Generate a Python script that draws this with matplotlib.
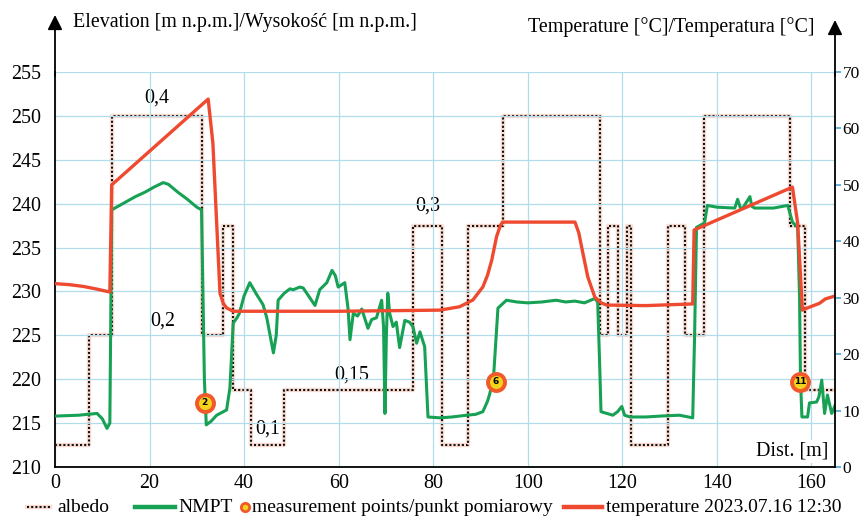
import matplotlib
matplotlib.use("Agg")
import matplotlib.pyplot as plt
from matplotlib.lines import Line2D

plt.rcParams['font.family'] = ['Liberation Serif', 'DejaVu Serif']

# ---------------- data ----------------
nmpt_x = [0, 5, 8.9, 10, 11, 11.6, 12, 13, 15, 17, 19, 21, 22.9, 24, 26, 28, 30, 31, 31.3, 31.6, 32,
          33, 34.2, 36.3, 37, 37.7, 38.5, 39, 40, 41.2, 42.6, 44, 44.8, 45.5, 46.2, 46.8, 47.2, 48.5,
          49.7, 50.4, 51.8, 52.5, 53.5, 55, 56, 57.5, 58.6, 59.3, 59.9, 61.3, 62, 62.4, 63.1, 64,
          64.9, 66.2, 67, 68, 69.1, 69.5, 69.8, 70.1, 70.4, 70.8, 71.5, 72.2, 72.9, 74, 75, 75.7,
          76.5, 77.2, 78.2, 78.9, 81.4, 84, 87.1, 89, 90.5, 91.5, 92, 92.8, 93.7, 95.5, 97.7, 100,
          103, 106, 108, 110, 112, 114.2, 114.8, 115.2, 115.5, 118, 119, 119.9, 120.5, 121.6, 125,
          128, 132.1, 134.9, 135.3, 135.7, 137.4, 138, 140, 143.8, 144.4, 145, 145.5, 147, 147.4,
          148, 152, 155, 156, 157.1, 157.5, 157.7, 158, 159.2, 159.6, 161.1, 161.6, 162.2, 162.8,
          163.4, 164.3, 165]
nmpt_elev = [215.8, 215.9, 216.1, 215.5, 214.4, 215.0, 239.3, 239.6, 240.2, 240.8, 241.3, 241.9,
             242.4, 242.2, 241.3, 240.5, 239.6, 239.3, 230.0, 220.0, 214.8, 215.2, 215.9, 216.5,
             219.0, 226.4, 227.0, 227.5, 229.5, 231.0, 229.7, 228.5, 227.0, 225.0, 223.0, 225.0,
             229.0, 229.8, 230.3, 230.2, 230.5, 230.4, 229.6, 228.4, 230.2, 231.0, 232.4, 231.8,
             230.5, 231.0, 228.0, 224.5, 227.5, 227.2, 228.0, 225.8, 226.8, 227.0, 229.0, 226.0,
             216.1, 225.0, 229.8, 227.5, 226.0, 226.5, 223.6, 226.7, 226.5, 226.0, 224.1, 225.4,
             223.7, 215.7, 215.6, 215.7, 215.9, 216.0, 216.3, 217.5, 218.4, 220.5, 228.1, 229.0,
             228.8, 228.7, 228.8, 229.0, 228.8, 228.9, 228.7, 229.2, 228.8, 222.0, 216.3, 215.9,
             216.3, 216.9, 215.9, 215.7, 215.7, 215.8, 215.9, 215.6, 225.0, 237.3, 237.8, 239.8,
             239.6, 239.5, 240.5, 239.5, 239.5, 240.8, 239.7, 239.5, 239.5, 239.8, 237.9, 237.3,
             229.4, 220.0, 215.7, 215.7, 217.3, 217.4, 218.0, 219.9, 216.1, 218.2, 216.1, 217.0]

temp_x = [0, 3.2, 6, 9, 11.6, 12, 32.4, 33.4, 34.9, 35.6, 36.3, 37.7, 60, 81.4, 85.6, 88.4, 90.5,
          91.5, 92.4, 93.4, 94.2, 94.7, 110, 110.8, 111.4, 112.7, 114.2, 115.5, 116.7, 125, 134.9,
          135.2, 156, 157.1, 158.1, 159.2, 161.7, 163, 165]
temp_c = [32.5, 32.3, 32.0, 31.5, 31.0, 50.0, 65.2, 57.4, 30.8, 29.0, 28.2, 27.6, 27.6, 27.8, 28.4,
          29.6, 31.9, 34.0, 36.7, 40.8, 42.8, 43.4, 43.4, 41.5, 39.0, 33.7, 30.1, 29.1, 28.7, 28.6,
          28.9, 42.0, 49.6, 43.2, 27.8, 28.2, 29.0, 29.8, 30.3]

albedo_x = [0, 7.2, 12, 31, 35.6, 37.7, 41.4, 48.5, 75.7, 81.8, 87.3, 94.7, 115.2, 116.9, 119.2,
            120.9, 121.8, 129.6, 133.2, 137.2, 155.4, 158.6, 165]
albedo_v = [0.1, 0.2, 0.4, 0.2, 0.3, 0.15, 0.1, 0.15, 0.3, 0.1, 0.3, 0.4, 0.2, 0.3, 0.2, 0.3, 0.1,
            0.3, 0.2, 0.4, 0.3, 0.15, 0.15]

albedo_labels = ["0,4", "0,2", "0,1", "0,15", "0,3"]
albedo_label_x = [21.6, 22.8, 45.0, 62.8, 78.9]
albedo_label_v = [0.416, 0.213, 0.115, 0.164, 0.318]

point_ids = ["2", "6", "11"]
point_x = [31.7, 93.2, 157.7]
point_elev = [217.3, 219.7, 219.7]

elev_ticks = [210, 215, 220, 225, 230, 235, 240, 245, 250, 255]
temp_ticks = [0, 10, 20, 30, 40, 50, 60, 70]
dist_ticks = [0, 20, 40, 60, 80, 100, 120, 140, 160]

legend_labels = ['albedo', 'NMPT', 'measurement points/punkt pomiarowy',
                 'temperature 2023.07.16 12:30']

# ---------------- styling ----------------
GREEN = '#17a154'
RED = '#ef4a30'
GRID = '#b3dceb'
FS = 14.4
LFS = 14.0
W, H = 861, 517

fig = plt.figure(figsize=(8.61, 5.17), dpi=100)
L, R = 55 / W, 835 / W
B, T = (H - 467) / H, (H - 72) / H
ax = fig.add_axes([L, B, R - L, T - B])
ax_alb = ax.twinx()
ax_t = ax.twinx()
ax_alb.set_zorder(1)
ax.set_zorder(2)
ax_t.set_zorder(3)
ax.patch.set_visible(False)
ax_alb.patch.set_visible(False)
ax_t.patch.set_visible(False)

ax.set_xlim(0, 165)
ax.set_ylim(210, 255)
ax_t.set_ylim(0, 70)
ax_alb.set_ylim(0.08, 0.44)

# grid
ax.set_xticks(dist_ticks)
ax.set_yticks(elev_ticks)
ax.grid(True, color=GRID, lw=0.9)
ax.set_axisbelow(True)

# albedo
ax_alb.plot(albedo_x, albedo_v, drawstyle='steps-post', color='#f7c2b0', lw=3.2, alpha=0.55)
ax_alb.plot(albedo_x, albedo_v, drawstyle='steps-post', color='#111111', lw=1.5,
            linestyle=(0, (1, 1)))
for s, xx, vv in zip(albedo_labels, albedo_label_x, albedo_label_v):
    ax_alb.text(xx, vv, s, fontsize=FS, ha='center', va='center',
                bbox=dict(facecolor='white', edgecolor='none', pad=1.5))
ax_alb.set_yticks([])
for sp in ax_alb.spines.values():
    sp.set_visible(False)

# NMPT
ax.plot(nmpt_x, nmpt_elev, color=GREEN, lw=2.2, zorder=3)
ax.scatter(point_x, point_elev, s=150, facecolor='#f3d31c', edgecolor='#f05a2a', lw=2.8, zorder=5)
for s, xx, yy in zip(point_ids, point_x, point_elev):
    ax.text(xx, yy, s, fontsize=6.5, fontweight='bold', ha='center', va='center', zorder=6,
            family='DejaVu Sans')

# temperature
ax_t.plot(temp_x, temp_c, color=RED, lw=2.4)

# spines & ticks
for sp in ['top', 'right']:
    ax.spines[sp].set_visible(False)
for sp in ['top', 'left', 'bottom']:
    ax_t.spines[sp].set_visible(False)
ax.spines['left'].set_linewidth(1.3)
ax.spines['bottom'].set_linewidth(1.3)
ax_t.spines['right'].set_linewidth(1.3)
ax.tick_params(axis='y', length=0, pad=10, labelsize=FS)
ax.tick_params(axis='x', length=0, pad=5, labelsize=FS)
ax_t.set_yticks(temp_ticks)
ax_t.tick_params(axis='y', length=4, width=1.2, color='#4aa7d6', pad=1.5, labelsize=12.5)

# arrows
ax.annotate('', xy=(0, 1 + 57 / 395), xytext=(0, 0.99), xycoords='axes fraction',
            annotation_clip=False,
            arrowprops=dict(arrowstyle='-|>', color='black', lw=1.3, mutation_scale=22,
                            shrinkA=0, shrinkB=0))
ax.annotate('', xy=(1, 1 + 52 / 395), xytext=(1, 0.99), xycoords='axes fraction',
            annotation_clip=False,
            arrowprops=dict(arrowstyle='-|>', color='black', lw=1.3, mutation_scale=22,
                            shrinkA=0, shrinkB=0))

fig.text(73 / W, 1 - 22 / H, 'Elevation [m n.p.m.]/Wysokość [m n.p.m.]', fontsize=FS,
         ha='left', va='center')
fig.text(815 / W, 1 - 27 / H, 'Temperature [°C]/Temperatura [°C]', fontsize=FS,
         ha='right', va='center')
ax.text(163.6, 211.8, 'Dist. [m]', fontsize=FS, ha='right', va='center', zorder=7,
        bbox=dict(facecolor='white', edgecolor='none', pad=1.5))

# legend (placed manually in figure pixels)
ly = 1 - 507 / H
def fx(px):
    return px / W
fig.add_artist(Line2D([fx(27), fx(50)], [ly, ly], color='#f7c2b0', lw=3.2, alpha=0.55,
                      transform=fig.transFigure))
fig.add_artist(Line2D([fx(27), fx(50)], [ly, ly], color='#111111', lw=1.5,
                      linestyle=(0, (1, 1)), transform=fig.transFigure))
fig.add_artist(Line2D([fx(135), fx(175)], [ly, ly], color=GREEN, lw=3.2,
                      transform=fig.transFigure))
fig.add_artist(Line2D([fx(245)], [ly], color='none', marker='o', markersize=6,
                      markerfacecolor='#f3d31c', markeredgecolor='#f05a2a', markeredgewidth=2,
                      transform=fig.transFigure))
fig.add_artist(Line2D([fx(564), fx(602)], [ly, ly], color=RED, lw=3.2,
                      transform=fig.transFigure))
for lbl, px in zip(legend_labels, [57, 178, 252, 606]):
    fig.text(fx(px), ly, lbl, fontsize=LFS, ha='left', va='center')

fig.savefig('out.png', dpi=100)
